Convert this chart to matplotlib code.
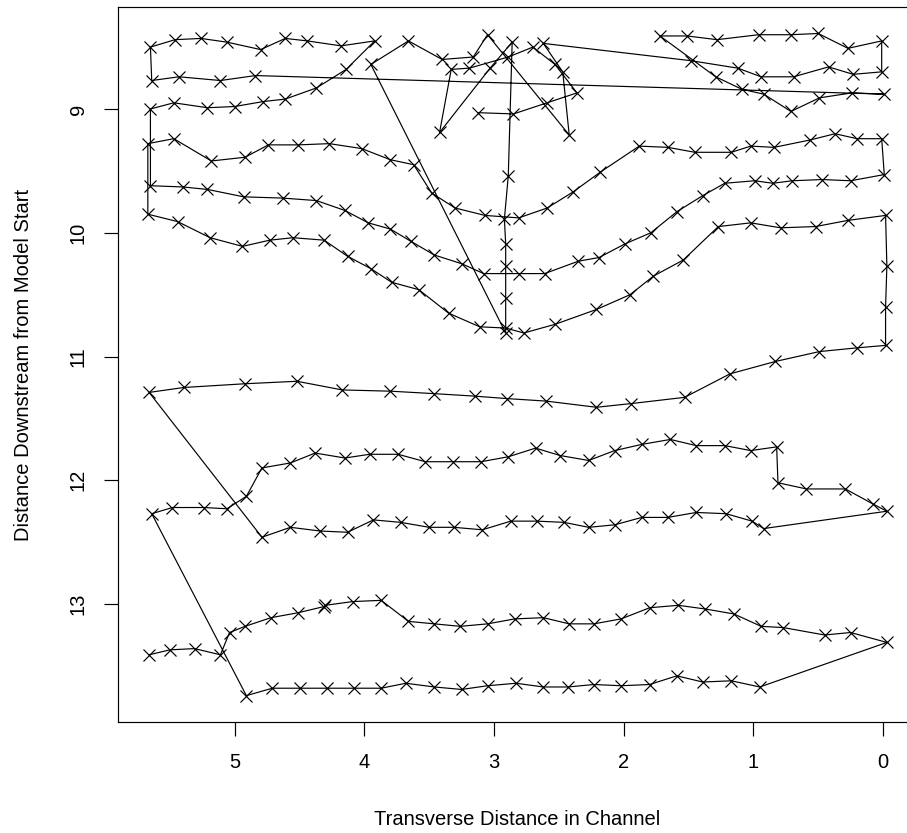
import matplotlib
matplotlib.use("Agg")
import matplotlib.pyplot as plt

# ---- survey transects, listed in the order the path visits them ----
row_j_x = [5.66, 5.50, 5.31, 5.11, 5.04, 4.92, 4.72, 4.51, 4.31, 4.30, 4.09, 3.87, 3.66, 3.46, 3.26,
           3.05, 2.84, 2.62, 2.42, 2.23, 2.02, 1.80, 1.58, 1.37, 1.15, 0.94, 0.77, 0.45, 0.25, -0.03]
row_j_y = [13.41, 13.37, 13.36, 13.41, 13.23, 13.18, 13.11, 13.07, 13.02, 13.01, 12.98, 12.97, 13.14, 13.16, 13.18,
           13.16, 13.12, 13.11, 13.16, 13.16, 13.12, 13.03, 13.01, 13.04, 13.08, 13.18, 13.19, 13.25, 13.23, 13.31]

row_k_x = [0.95, 1.17, 1.39, 1.59, 1.80, 2.02, 2.23, 2.43, 2.62, 2.83, 3.05, 3.25, 3.46, 3.68, 3.87,
           4.08, 4.29, 4.50, 4.71, 4.91]
row_k_y = [13.67, 13.62, 13.63, 13.58, 13.65, 13.66, 13.65, 13.67, 13.67, 13.64, 13.66, 13.69, 13.67, 13.64, 13.68,
           13.68, 13.68, 13.68, 13.68, 13.74]

row_h_x = [5.64, 5.48, 5.24, 5.06, 4.91, 4.79, 4.57, 4.38, 4.15, 3.96, 3.74, 3.53, 3.32, 3.10, 2.89,
           2.68, 2.49, 2.27, 2.07, 1.86, 1.64, 1.44, 1.22, 1.02, 0.82, 0.81, 0.59, 0.29, 0.08, -0.03]
row_h_y = [12.27, 12.22, 12.22, 12.23, 12.13, 11.90, 11.86, 11.78, 11.82, 11.79, 11.79, 11.85, 11.85, 11.85, 11.81,
           11.74, 11.80, 11.84, 11.76, 11.71, 11.67, 11.72, 11.72, 11.76, 11.73, 12.02, 12.07, 12.07, 12.19, 12.25]

row_i_x = [0.92, 1.01, 1.21, 1.44, 1.66, 1.86, 2.07, 2.27, 2.46, 2.67, 2.87, 3.09, 3.31, 3.50, 3.72,
           3.93, 4.13, 4.34, 4.57, 4.79]
row_i_y = [12.39, 12.33, 12.27, 12.26, 12.30, 12.30, 12.36, 12.38, 12.34, 12.33, 12.33, 12.40, 12.38, 12.38, 12.34,
           12.32, 12.42, 12.41, 12.38, 12.46]

row_g_x = [5.66, 5.39, 4.92, 4.52, 4.17, 3.80, 3.46, 3.15, 2.90, 2.60, 2.21, 1.94, 1.53, 1.18, 0.83,
           0.49, 0.20, -0.02]
row_g_y = [11.29, 11.25, 11.22, 11.20, 11.27, 11.28, 11.30, 11.32, 11.34, 11.36, 11.41, 11.38, 11.33, 11.14, 11.04,
           10.96, 10.93, 10.91]

bank_x = [-0.02, -0.03, -0.02]
bank_y = [10.60, 10.27, 9.86]

row_f_x = [0.27, 0.52, 0.79, 1.02, 1.27, 1.54, 1.77, 1.95, 2.21, 2.53, 2.77, 2.91, 3.11, 3.35, 3.58,
           3.79, 3.95, 4.13, 4.31, 4.55, 4.73, 4.94, 5.19, 5.44, 5.67]
row_f_y = [9.90, 9.95, 9.96, 9.92, 9.95, 10.22, 10.35, 10.50, 10.62, 10.74, 10.81, 10.77, 10.76, 10.65, 10.46,
           10.40, 10.29, 10.19, 10.06, 10.04, 10.06, 10.11, 10.04, 9.91, 9.85]

row_d_x = [5.67, 5.47, 5.18, 4.92, 4.74, 4.51, 4.27, 4.02, 3.80, 3.62, 3.48, 3.30, 3.07, 2.81, 2.59,
           2.39, 2.18, 1.88, 1.66, 1.45, 1.17, 1.02, 0.84, 0.56, 0.37, 0.20, 0.01]
row_d_y = [9.28, 9.24, 9.42, 9.39, 9.29, 9.29, 9.28, 9.32, 9.41, 9.45, 9.68, 9.80, 9.86, 9.88, 9.80,
           9.67, 9.51, 9.30, 9.31, 9.35, 9.35, 9.30, 9.31, 9.25, 9.20, 9.24, 9.24]

row_e_x = [-0.01, 0.25, 0.47, 0.70, 0.85, 0.99, 1.22, 1.39, 1.59, 1.79, 1.99, 2.19, 2.35, 2.61, 2.81,
           3.08, 3.25, 3.46, 3.64, 3.80, 3.97, 4.15, 4.37, 4.63, 4.93, 5.21, 5.40, 5.65]
row_e_y = [9.53, 9.58, 9.57, 9.58, 9.60, 9.58, 9.60, 9.70, 9.83, 10.00, 10.09, 10.20, 10.23, 10.33, 10.33,
           10.33, 10.25, 10.18, 10.07, 9.97, 9.92, 9.82, 9.74, 9.72, 9.71, 9.65, 9.63, 9.62]

row_c_x = [5.65, 5.47, 5.21, 5.00, 4.78, 4.61, 4.37, 4.14, 3.92]
row_c_y = [9.00, 8.95, 8.99, 8.98, 8.94, 8.92, 8.83, 8.68, 8.45]

row_a_x = [4.18, 4.44, 4.61, 4.80, 5.06, 5.26, 5.46, 5.65]
row_a_y = [8.49, 8.45, 8.43, 8.52, 8.46, 8.43, 8.44, 8.50]

row_b_x = [5.64, 5.43, 5.11, 4.84, -0.01]
row_b_y = [8.77, 8.74, 8.77, 8.73, 8.88]

row_b2_x = [0.24, 0.49, 0.71, 0.92, 1.09, 1.29, 1.72]
row_b2_y = [8.87, 8.91, 9.02, 8.88, 8.84, 8.74, 8.41]

row_a2_x = [1.51, 1.28, 0.96, 0.71, 0.50, 0.27, 0.01]
row_a2_y = [8.41, 8.44, 8.40, 8.40, 8.39, 8.51, 8.45]

row_b3_x = [0.01, 0.23, 0.42, 0.69, 0.94, 1.12, 1.48]
row_b3_y = [8.70, 8.72, 8.66, 8.74, 8.74, 8.67, 8.61]

mid_x = [2.62, 2.47, 2.42, 3.05, 3.16, 3.40, 3.66, 3.95, 2.91, 2.91, 2.91, 2.91, 2.92, 2.89,
         2.86, 3.03, 3.42, 3.33, 3.19, 2.89, 2.70, 2.53, 2.36, 2.59, 2.85, 3.12]
mid_y = [8.47, 8.70, 9.21, 8.40, 8.58, 8.60, 8.45, 8.64, 10.81, 10.53, 10.27, 10.09, 9.89, 9.54,
         8.46, 8.67, 9.19, 8.68, 8.67, 8.58, 8.50, 8.64, 8.87, 8.95, 9.04, 9.03]

order = [(row_j_x, row_j_y), (row_k_x, row_k_y), (row_h_x, row_h_y), (row_i_x, row_i_y),
         (row_g_x, row_g_y), (bank_x, bank_y), (row_f_x, row_f_y), (row_d_x, row_d_y),
         (row_e_x, row_e_y), (row_c_x, row_c_y), (row_a_x, row_a_y), (row_b_x, row_b_y),
         (row_b2_x, row_b2_y), (row_a2_x, row_a2_y), (row_b3_x, row_b3_y), (mid_x, mid_y)]

path_x, path_y = [], []
for xs, ys in order:
    path_x += xs
    path_y += ys

plt.rcParams['font.family'] = ['Liberation Sans', 'DejaVu Sans']

W, H = 907, 833
fig = plt.figure(figsize=(W / 100, H / 100), dpi=100)
ax = fig.add_axes([0.1304, 0.1331, 0.8800, 0.8585])

ax.plot(path_x, path_y, color='black', linewidth=0.85, marker='x',
        markersize=8, markeredgewidth=0.85)

xmin, xmax = min(path_x), max(path_x)
ymin, ymax = min(path_y), max(path_y)
dx, dy = 0.04 * (xmax - xmin), 0.04 * (ymax - ymin)
ax.set_xlim(xmax + dx, xmin - dx)
ax.set_ylim(ymax + dy, ymin - dy)

ax.set_xticks([5, 4, 3, 2, 1, 0])
ax.set_yticks([9, 10, 11, 12, 13])
ax.tick_params(direction='out', length=10, width=0.85, labelsize=14.5, pad=12,
               top=False, right=False)
for lbl in ax.get_yticklabels():
    lbl.set_rotation(90)
    lbl.set_va('center')
for s in ax.spines.values():
    s.set_linewidth(0.85)

ax.set_xlabel('Transverse Distance in Channel', fontsize=14.5)
ax.set_ylabel('Distance Downstream from Model Start', fontsize=14.5)
ax.xaxis.set_label_coords(0.5, -0.1364)
ax.xaxis.label.set_va('center')
ax.yaxis.set_label_coords(-0.1183, 0.5)
ax.yaxis.label.set_va('center')

fig.savefig('out.png', dpi=100)
